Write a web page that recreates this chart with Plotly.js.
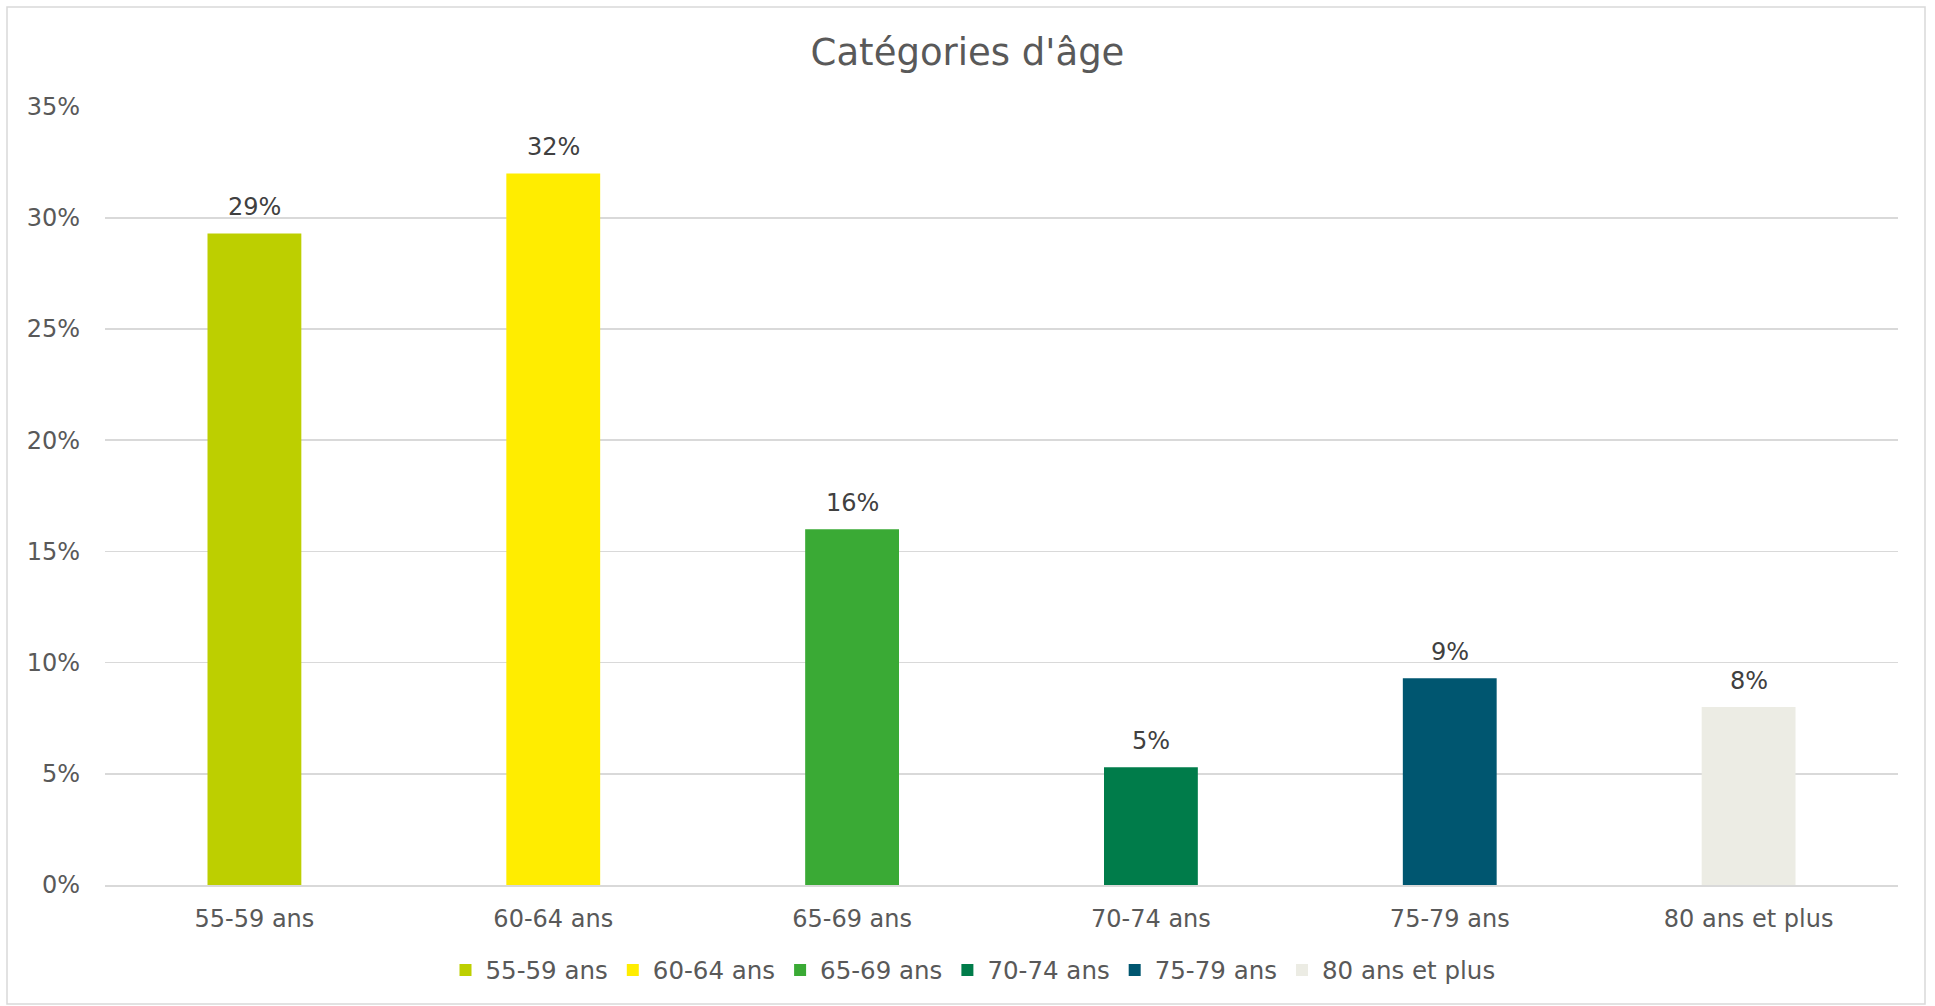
<!DOCTYPE html>
<html>
<head>
<meta charset="utf-8">
<script src="https://cdn.plot.ly/plotly-3.0.1.min.js"></script>
<style>html,body{margin:0;padding:0;background:#fff;}#chart{width:1935px;height:1006px;}</style>
</head>
<body>
<div id="chart"></div>
<script>
const categories = ["55-59 ans", "60-64 ans", "65-69 ans", "70-74 ans", "75-79 ans", "80 ans et plus"];
const values = [29.3, 32.0, 16.0, 5.3, 9.3, 8.0];
const labels = ["29%", "32%", "16%", "5%", "9%", "8%"];
const colors = ["#BDCF00", "#FFED00", "#3AAA35", "#007C4A", "#005670", "#ECECE4"];
const yTicks = [0, 5, 10, 15, 20, 25, 30, 35];

const FONT = "DejaVu Sans, Verdana, sans-serif";

const traces = categories.map((c, i) => ({
  type: "bar",
  name: c,
  x: [c],
  y: [values[i]],
  marker: {color: colors[i], line: {width: 0}},
  width: 0.314,
  hoverinfo: "x+y"
}));

const annotations = categories.map((c, i) => ({
  x: c, y: values[i], xref: "x", yref: "y",
  text: labels[i], showarrow: false,
  xanchor: "center", yanchor: "middle", yshift: 26,
  font: {family: FONT, size: 24, color: "#404040"}
}));

const L = 105, R = 1898, T = 106, B = 885, W = 1935, H = 1006;
const pw = R - L, ph = B - T;

const layout = {
  width: W, height: H,
  margin: {l: L, r: W - R, t: T, b: H - B},
  paper_bgcolor: "#fff",
  plot_bgcolor: "#fff",
  barmode: "overlay",
  font: {family: FONT, color: "#595959", size: 24},
  title: {
    text: "Catégories d'âge",
    font: {family: FONT, size: 37, color: "#595959"},
    x: 0.5, xref: "container", xanchor: "center",
    y: 1 - 52 / H, yref: "container", yanchor: "middle"
  },
  xaxis: {
    type: "category",
    categoryorder: "array",
    categoryarray: categories,
    showgrid: false,
    zeroline: false,
    showline: true,
    linecolor: "#d9d9d9",
    linewidth: 1.5,
    ticks: "",
    ticklabelstandoff: 12,
    tickfont: {family: FONT, size: 24, color: "#595959"},
    fixedrange: true
  },
  yaxis: {
    range: [0, 35.03],
    tickvals: yTicks,
    ticktext: yTicks.map(v => v + "%"),
    showgrid: true,
    gridcolor: "#d9d9d9",
    gridwidth: 1.5,
    zeroline: false,
    showline: false,
    ticks: "",
    ticklabelstandoff: 24,
    tickfont: {family: FONT, size: 24, color: "#595959"},
    fixedrange: true
  },
  annotations: annotations,
  showlegend: true,
  legend: {
    orientation: "h",
    x: (973 - L) / pw, xanchor: "center",
    y: (B - 970) / ph, yanchor: "middle",
    font: {family: FONT, size: 24.5, color: "#595959"},
    traceorder: "normal",
    itemclick: false,
    itemdoubleclick: false
  },
  shapes: [{
    type: "rect", xref: "paper", yref: "paper",
    x0: (7 - L) / pw, x1: (1925 - L) / pw,
    y0: (B - 1004) / ph, y1: (B - 7) / ph,
    line: {color: "#d9d9d9", width: 1.5},
    fillcolor: "rgba(0,0,0,0)",
    layer: "below"
  }]
};

Plotly.newPlot("chart", traces, layout, {displayModeBar: false, staticPlot: true});
</script>
</body>
</html>
